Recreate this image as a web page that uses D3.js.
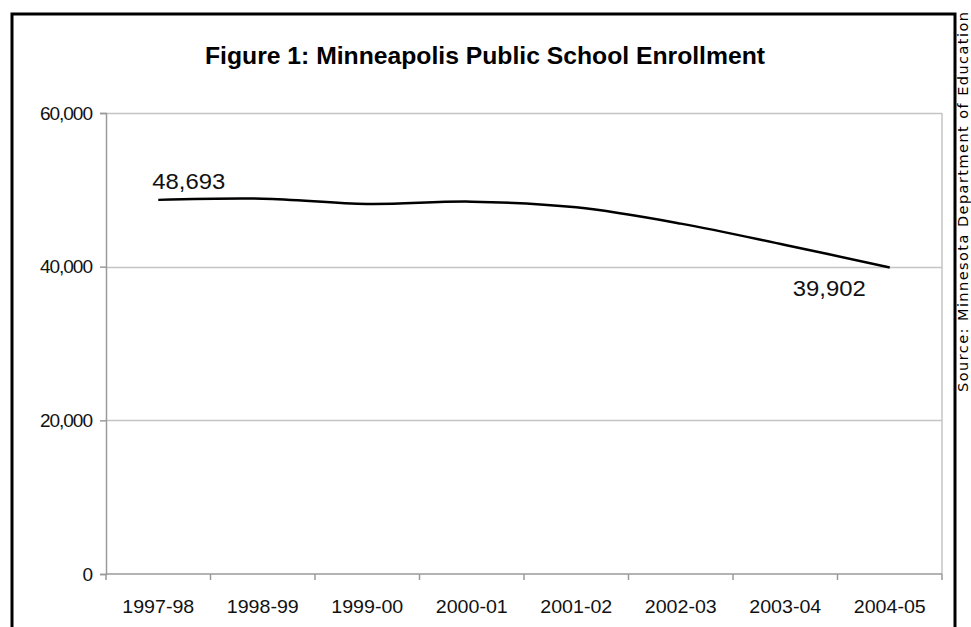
<!DOCTYPE html>
<html>
<head>
<meta charset="utf-8">
<script src="https://cdn.jsdelivr.net/npm/d3@7/dist/d3.min.js"></script>
<style>
  html, body { margin: 0; padding: 0; background: #fff; }
  svg { display: block; }
</style>
</head>
<body>
<svg id="chart" width="971" height="627"></svg>
<script>
// Minneapolis public school enrollment by school year
const years = ["1997-98", "1998-99", "1999-00", "2000-01", "2001-02", "2002-03", "2003-04", "2004-05"];
const enrollment = [48693, 48850, 48160, 48460, 47720, 45600, 42820, 39902];
const yTicks = [0, 20000, 40000, 60000];
const labelledPoints = [0, 7];

const svg = d3.select("#chart");
const plot = { left: 106, right: 942, top: 113, bottom: 574 };
const font = "Liberation Sans, Arial, sans-serif";

// outer frame (bottom edge runs off the page)
svg.append("rect")
  .attr("x", 12).attr("y", 14)
  .attr("width", 943).attr("height", 640)
  .attr("fill", "none").attr("stroke", "#000").attr("stroke-width", 3);

svg.append("text")
  .attr("x", 485).attr("y", 64)
  .attr("text-anchor", "middle")
  .attr("font-family", font)
  .attr("font-weight", "bold")
  .attr("font-size", 23)
  .attr("textLength", 560)
  .attr("lengthAdjust", "spacingAndGlyphs")
  .text("Figure 1: Minneapolis Public School Enrollment");

const x = d3.scaleBand().domain(years).range([plot.left, plot.right]).padding(0);
const y = d3.scaleLinear().domain([0, 60000]).range([plot.bottom, plot.top]);

// horizontal gridlines
svg.append("g").selectAll("line")
  .data(yTicks.filter(d => d > 0))
  .join("line")
  .attr("x1", plot.left).attr("x2", plot.right)
  .attr("y1", d => Math.round(y(d)) + 0.5).attr("y2", d => Math.round(y(d)) + 0.5)
  .attr("stroke", "#c4c4c4").attr("stroke-width", 1.5);

// right edge of plot area
svg.append("line")
  .attr("x1", plot.right).attr("x2", plot.right)
  .attr("y1", plot.top).attr("y2", plot.bottom)
  .attr("stroke", "#c4c4c4").attr("stroke-width", 1.5);

// y axis
const yAxis = svg.append("g")
  .attr("transform", `translate(${plot.left},0)`)
  .call(d3.axisLeft(y).tickValues(yTicks).tickSize(6).tickPadding(8)
    .tickFormat(d3.format(",")));
yAxis.select(".domain").attr("stroke", "#9a9a9a").attr("stroke-width", 1.5);
yAxis.selectAll(".tick line").attr("stroke", "#9a9a9a").attr("stroke-width", 1.5);
yAxis.selectAll("text")
  .attr("font-family", font)
  .attr("font-size", 19).attr("fill", "#111")
  .attr("letter-spacing", "-1");

// x axis: ticks on category boundaries, labels at centres
const xAxisG = svg.append("g").attr("transform", `translate(0,${plot.bottom})`);
xAxisG.append("line")
  .attr("x1", plot.left).attr("x2", plot.right)
  .attr("y1", 0).attr("y2", 0)
  .attr("stroke", "#9a9a9a").attr("stroke-width", 1.5);
const boundaries = years.map(d => x(d)).concat([x(years[years.length - 1]) + x.bandwidth()]);
xAxisG.selectAll("line.tk")
  .data(boundaries)
  .join("line").attr("class", "tk")
  .attr("x1", d => d).attr("x2", d => d)
  .attr("y1", 0).attr("y2", 6)
  .attr("stroke", "#9a9a9a").attr("stroke-width", 1.5);
xAxisG.selectAll("text")
  .data(years)
  .join("text")
  .attr("x", d => x(d) + x.bandwidth() / 2)
  .attr("y", 39)
  .attr("text-anchor", "middle")
  .attr("font-family", font)
  .attr("font-size", 19).attr("fill", "#111")
  .attr("textLength", 72)
  .attr("lengthAdjust", "spacingAndGlyphs")
  .text(d => d);

// enrollment line
const line = d3.line()
  .x((d, i) => x(years[i]) + x.bandwidth() / 2)
  .y(d => y(d))
  .curve(d3.curveCatmullRom.alpha(0.5));

svg.append("path")
  .datum(enrollment)
  .attr("d", line)
  .attr("fill", "none")
  .attr("stroke", "#000")
  .attr("stroke-width", 2.5);

// value labels at the first and last year
const valueFmt = d3.format(",");
svg.append("text")
  .attr("x", x(years[labelledPoints[0]]) + x.bandwidth() / 2 - 6)
  .attr("y", y(enrollment[labelledPoints[0]]) - 11)
  .attr("font-family", font)
  .attr("font-size", 22).attr("fill", "#111")
  .attr("textLength", 73)
  .attr("lengthAdjust", "spacingAndGlyphs")
  .text(valueFmt(enrollment[labelledPoints[0]]));
svg.append("text")
  .attr("x", x(years[labelledPoints[1]]) + x.bandwidth() / 2 - 97)
  .attr("y", y(enrollment[labelledPoints[1]]) + 29)
  .attr("font-family", font)
  .attr("font-size", 22).attr("fill", "#111")
  .attr("textLength", 73)
  .attr("lengthAdjust", "spacingAndGlyphs")
  .text(valueFmt(enrollment[labelledPoints[1]]));

// source note along the right edge
svg.append("text")
  .attr("transform", "translate(967.5,12) rotate(-90)")
  .attr("text-anchor", "end")
  .attr("font-family", "DejaVu Sans, Verdana, sans-serif")
  .attr("font-size", 14.5).attr("fill", "#000")
  .attr("textLength", 380)
  .attr("lengthAdjust", "spacing")
  .text("Source: Minnesota Department of Education");
</script>
</body>
</html>
